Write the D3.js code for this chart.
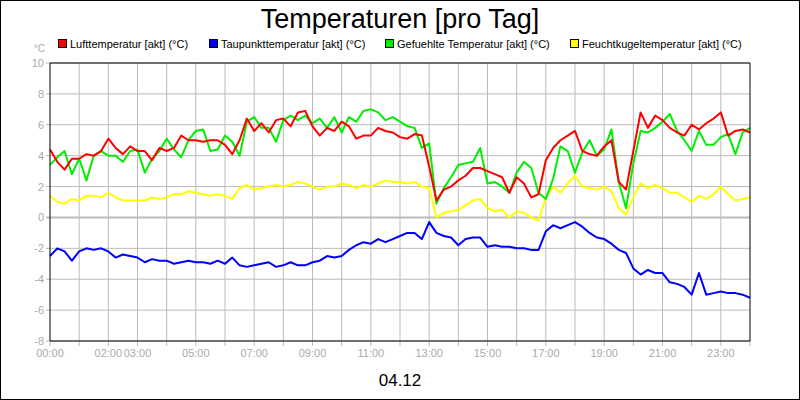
<!DOCTYPE html>
<html><head><meta charset="utf-8">
<script src="https://cdn.jsdelivr.net/npm/d3@7"></script>
<style>body{margin:0;background:#fff}svg{display:block;font-family:"Liberation Sans",Arial,sans-serif}</style>
</head><body><svg id="c" width="800" height="400"></svg>
<script>
const title = "Temperaturen [pro Tag]";
const dateLabel = "04.12";
const seriesNames = ["Lufttemperatur [akt] (°C)","Taupunkttemperatur [akt] (°C)","Gefuehlte Temperatur [akt] (°C)","Feuchtkugeltemperatur [akt] (°C)"];
const seriesColors = ["#ff0000","#0000ff","#00ee00","#ffff00"];
const xTickHours = [0,2,3,5,7,9,11,13,15,17,19,21,23];
const yTicks = [-8,-6,-4,-2,0,2,4,6,8,10];
// quarter-hour values, 00:00 .. 24:00
const luft = [4.4,3.6,3.1,3.8, 3.8,4.1,4.0,4.3, 5.1,4.5,4.1,4.6, 4.3,4.3,3.7,4.5, 4.3,4.5,5.3,5.0, 5.0,4.9,5.0,5.0,
 4.7,4.1,5.0,6.4, 5.6,6.1,5.5,6.3, 6.4,5.9,6.8,6.9, 5.9,5.3,5.8,5.6, 6.2,5.9,5.1,5.3, 5.3,5.8,5.6,5.5,
 5.2,5.1,5.4,5.3, 3.3,1.1,1.8,2.0, 2.4,2.7,3.2,3.2, 3.0,2.8,2.6,1.6, 2.6,2.2,1.3,1.5, 3.7,4.5,5.0,5.3,
 5.6,4.3,4.1,4.0, 4.6,5.0,2.3,1.8, 4.3,6.8,5.8,6.6, 6.3,5.8,5.5,5.3, 6.0,5.7,6.1,6.4, 6.8,5.3,5.6,5.7, 5.5];
const taupunkt = [-2.5,-2.0,-2.2,-2.8, -2.2,-2.0,-2.1,-2.0, -2.2,-2.6,-2.4,-2.5, -2.6,-2.9,-2.7,-2.8, -2.8,-3.0,-2.9,-2.8, -2.9,-2.9,-3.0,-2.8,
 -3.0,-2.6,-3.1,-3.2, -3.1,-3.0,-2.9,-3.2, -3.1,-2.9,-3.1,-3.1, -2.9,-2.8,-2.5,-2.6, -2.5,-2.1,-1.8,-1.6, -1.7,-1.4,-1.6,-1.4,
 -1.2,-1.0,-1.0,-1.4, -0.3,-1.0,-1.2,-1.3, -1.8,-1.4,-1.3,-1.3, -1.9,-1.8,-1.9,-1.9, -2.0,-2.0,-2.1,-2.1, -0.9,-0.5,-0.7,-0.5,
 -0.3,-0.6,-1.0,-1.3, -1.4,-1.7,-2.1,-2.3, -3.3,-3.7,-3.4,-3.6, -3.6,-4.2,-4.3,-4.5, -5.0,-3.6,-5.0,-4.9, -4.8,-4.9,-4.9,-5.0, -5.2];
const gefuehlt = [3.4,3.9,4.3,2.8, 3.8,2.4,4.0,4.3, 4.0,4.0,3.6,4.3, 4.4,2.9,3.8,4.3, 5.1,4.4,3.9,5.0, 5.6,5.7,4.3,4.4,
 5.3,4.9,4.0,6.2, 6.5,5.8,5.8,4.9, 6.3,6.6,6.3,6.6, 6.1,6.4,5.8,6.5, 5.5,6.5,6.2,6.9, 7.0,6.8,6.3,6.5,
 6.2,5.9,5.8,4.5, 4.8,0.9,1.9,2.6, 3.4,3.5,3.6,4.5, 2.2,2.3,2.0,1.6, 2.9,3.6,3.2,1.6, 1.2,2.5,4.6,4.3,
 2.9,4.2,5.0,4.0, 4.4,5.7,2.3,0.6, 3.5,5.6,5.5,5.8, 6.2,6.7,5.6,5.0, 4.3,5.6,4.7,4.7, 5.2,5.4,4.1,5.5, 5.8];
const feucht = [1.4,1.0,0.9,1.2, 1.1,1.4,1.4,1.3, 1.6,1.3,1.1,1.1, 1.1,1.1,1.3,1.2, 1.3,1.5,1.5,1.7, 1.6,1.5,1.4,1.5,
 1.4,1.2,1.9,2.1, 1.8,1.9,2.0,2.1, 2.0,2.1,2.3,2.2, 2.0,1.8,2.0,2.0, 2.2,2.1,1.9,2.1, 2.0,2.2,2.4,2.3,
 2.3,2.2,2.3,2.0, 1.9,0.0,0.3,0.4, 0.5,0.8,1.1,1.2, 0.6,0.4,0.5,0.0, 0.4,0.3,0.0,-0.2, 1.3,2.0,1.6,2.2,
 2.7,2.0,1.9,1.8, 2.0,1.7,0.6,0.2, 1.3,2.2,1.9,2.1, 1.9,1.6,1.6,1.3, 1.0,1.4,1.2,1.5, 2.0,1.5,1.1,1.2, 1.3];

const svg = d3.select("#c");
const L=50,R=750,T=63,B=341;
const x = d3.scaleLinear().domain([0,24]).range([L,R]);
const y = d3.scaleLinear().domain([-8,10]).range([B,T]);
svg.append("rect").attr("x",0.5).attr("y",0.5).attr("width",799).attr("height",399).attr("fill","#fff").attr("stroke","#000");
svg.append("text").attr("x",400).attr("y",28).attr("text-anchor","middle").attr("font-size",27).text(title);
// grid
const g = svg.append("g");
g.selectAll(".vg").data(d3.range(1,24)).join("line").attr("x1",d=>x(d)).attr("x2",d=>x(d)).attr("y1",T).attr("y2",B+5).attr("stroke","#bbb");
g.selectAll(".hg").data(yTicks).join("line").attr("x1",L-4).attr("x2",R).attr("y1",d=>y(d)).attr("y2",d=>y(d)).attr("stroke",d=>d===0?"#bbb":"#bbb").attr("stroke-width",d=>d===0?2:1);
g.append("line").attr("x1",L).attr("x2",L).attr("y1",B).attr("y2",B+5).attr("stroke","#bbb");
g.append("line").attr("x1",R).attr("x2",R).attr("y1",B).attr("y2",B+5).attr("stroke","#bbb");
svg.selectAll(".yl").data(yTicks).join("text").attr("x",L-6).attr("y",d=>y(d)+4).attr("text-anchor","end").attr("font-size",11).attr("fill","#aaa").text(d=>d);
svg.selectAll(".xl").data(xTickHours).join("text").attr("x",d=>x(d)).attr("y",357).attr("text-anchor","middle").attr("font-size",11).attr("fill","#aaa").text(d=>String(d).padStart(2,"0")+":00");
svg.append("text").attr("x",45).attr("y",52).attr("text-anchor","end").attr("font-size",10).attr("fill","#aaa").text("°C");
// lines
const line = d3.line().x((d,i)=>x(i/4)).y(d=>y(d));
const order = [[feucht,3],[taupunkt,1],[gefuehlt,2],[luft,0]];
order.forEach(([data,k])=>{
  svg.append("path").datum(data).attr("d",line).attr("fill","none").attr("stroke",seriesColors[k]).attr("stroke-width",2).attr("stroke-linejoin","round");
});
// frame
svg.append("line").attr("x1",L).attr("x2",L).attr("y1",T).attr("y2",B).attr("stroke","#000");
svg.append("line").attr("x1",L).attr("x2",R).attr("y1",B).attr("y2",B).attr("stroke","#000");
svg.append("line").attr("x1",L).attr("x2",R).attr("y1",T).attr("y2",T).attr("stroke","#000");
svg.append("line").attr("x1",R).attr("x2",R).attr("y1",T).attr("y2",B).attr("stroke","#000");
// legend
const lx=[58,209,385,570];
seriesNames.forEach((n,i)=>{
  svg.append("rect").attr("x",lx[i]+0.5).attr("y",39.5).attr("width",8).attr("height",8).attr("fill",seriesColors[i]).attr("stroke","#000");
  svg.append("text").attr("x",lx[i]+12).attr("y",48).attr("font-size",11).text(n);
});
svg.append("text").attr("x",400).attr("y",386).attr("text-anchor","middle").attr("font-size",17).text(dateLabel);
</script></body></html>
